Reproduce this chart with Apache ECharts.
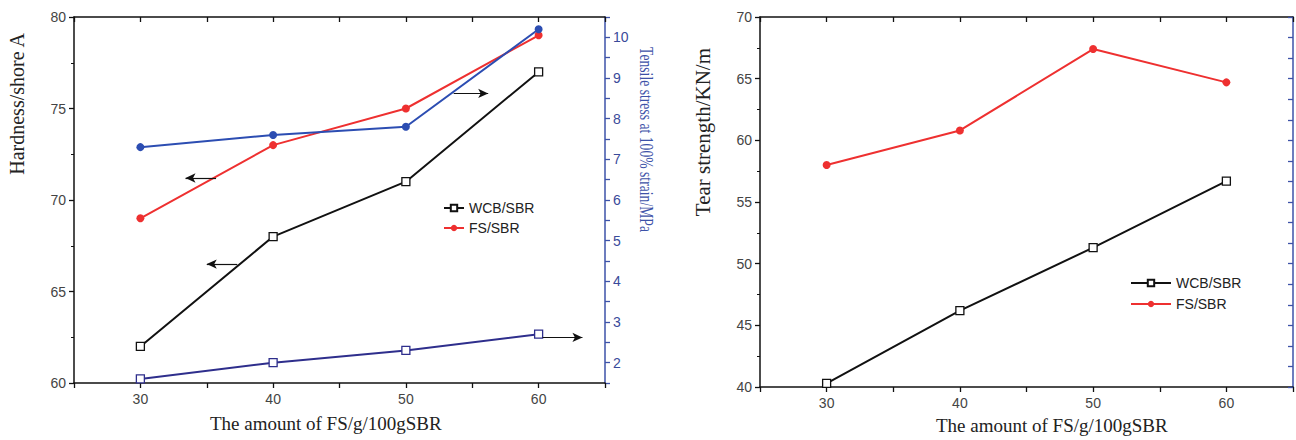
<!DOCTYPE html>
<html>
<head>
<meta charset="utf-8">
<script src="https://cdn.jsdelivr.net/npm/echarts@6/dist/echarts.min.js"></script>
<style>
  html, body { margin: 0; padding: 0; background: #fff; }
  #chart { width: 1296px; height: 440px; }
</style>
</head>
<body>
<div id="chart"></div>
<script>
(function() {
  // --- data ---
  var fsAmount = [30, 40, 50, 60];
  var hardnessWCB = [62, 68, 71, 77];
  var hardnessFS = [69, 73, 75, 79];
  var stressWCB = [1.6, 2.0, 2.3, 2.7];
  var stressFS = [7.3, 7.6, 7.8, 10.2];
  var tearWCB = [40.3, 46.2, 51.3, 56.7];
  var tearFS = [58.0, 60.8, 67.4, 64.7];

  var black = '#111';
  var red = '#ee3030';
  var blue = '#2c4db2';
  var navy = '#2e2e8c';
  var axisBlue = '#3d52a8';
  var serif = '"Liberation Serif", "DejaVu Serif", serif';
  var sans = '"Liberation Sans", Arial, sans-serif';

  function pairs(xs, ys) {
    return xs.map(function(x, i) { return [x, ys[i]]; });
  }

  // little annotation arrows pointing at the axis a curve belongs to
  function arrow(from, to) {
    return {
      silent: true,
      symbol: ['none', 'arrow'],
      symbolSize: [7, 10],
      label: { show: false },
      lineStyle: { color: black, width: 1.2, type: 'solid' },
      data: [[{ coord: from }, { coord: to }]]
    };
  }

  function xBottom(grid) {
    return {
      type: 'value', gridIndex: grid, position: 'bottom',
      min: 25, max: 65, interval: 5,
      axisLine: { show: true, lineStyle: { color: black, width: 1.5 } },
      axisTick: { show: true, inside: false, length: 5, lineStyle: { color: black, width: 1.3 } },
      axisLabel: {
        color: '#444', fontFamily: sans, fontSize: 14, margin: 9,
        formatter: function(v) { return v % 10 === 0 && v > 25 && v < 65 ? v : ''; }
      },
      splitLine: { show: false }
    };
  }
  function xTop(grid) {
    return {
      type: 'value', gridIndex: grid, position: 'top',
      min: 25, max: 65, interval: 5,
      axisLine: { show: true, lineStyle: { color: black, width: 1.5 } },
      axisTick: { show: true, inside: true, length: 5, lineStyle: { color: black, width: 1.3 } },
      axisLabel: { show: false },
      splitLine: { show: false }
    };
  }

  var chart = echarts.init(document.getElementById('chart'), null, { renderer: 'svg' });
  chart.setOption({
    animation: false,
    backgroundColor: '#fff',
    grid: [
      { left: 74, top: 17, width: 531, height: 366 },
      { left: 760, top: 17, width: 535, height: 370 }
    ],
    xAxis: [xBottom(0), xTop(0), xBottom(1), xTop(1)],
    yAxis: [
      {
        type: 'value', gridIndex: 0, position: 'left',
        min: 60, max: 80, interval: 5,
        axisLine: { show: true, lineStyle: { color: black, width: 1.5 } },
        axisTick: { show: true, inside: false, length: 5, lineStyle: { color: black, width: 1.3 } },
        minorTick: { show: true, splitNumber: 2, length: 3, lineStyle: { color: black } },
        axisLabel: { color: '#444', fontFamily: sans, fontSize: 14, margin: 8 },
        splitLine: { show: false }
      },
      {
        type: 'value', gridIndex: 0, position: 'right',
        min: 1.5, max: 10.5, interval: 0.5,
        axisLine: { show: true, lineStyle: { color: axisBlue, width: 1.5 } },
        axisTick: { show: true, inside: false, length: 5, lineStyle: { color: axisBlue, width: 1.3 } },
        axisLabel: {
          color: '#3a4a9a', fontFamily: sans, fontSize: 14, margin: 8,
          formatter: function(v) { return Math.abs(v - Math.round(v)) < 1e-6 ? v : ''; }
        },
        splitLine: { show: false }
      },
      {
        type: 'value', gridIndex: 1, position: 'left',
        min: 40, max: 70, interval: 5,
        axisLine: { show: true, lineStyle: { color: black, width: 1.5 } },
        axisTick: { show: true, inside: false, length: 5, lineStyle: { color: black, width: 1.3 } },
        minorTick: { show: true, splitNumber: 2, length: 3, lineStyle: { color: black } },
        axisLabel: { color: '#444', fontFamily: sans, fontSize: 14, margin: 8 },
        splitLine: { show: false }
      },
      {
        type: 'value', gridIndex: 1, position: 'right',
        min: 0, max: 18, interval: 1,
        axisLine: { show: true, lineStyle: { color: axisBlue, width: 1.5 } },
        axisTick: { show: true, inside: true, length: 5, lineStyle: { color: axisBlue, width: 1.3 } },
        axisLabel: { show: false },
        splitLine: { show: false }
      }
    ],
    legend: [
      {
        data: ['WCB/SBR', 'FS/SBR'],
        orient: 'vertical', left: 443, top: 201, padding: 0,
        itemWidth: 20, itemHeight: 8, itemGap: 6,
        textStyle: { color: '#222', fontFamily: sans, fontSize: 14 }
      },
      {
        data: ['WCB/SBR', 'FS/SBR'],
        orient: 'vertical', left: 1130, top: 276, padding: 0,
        itemWidth: 40, itemHeight: 8, itemGap: 7,
        textStyle: { color: '#222', fontFamily: sans, fontSize: 14 }
      }
    ],
    graphic: [
      {
        type: 'text', left: 7, top: 32, rotation: Math.PI / 2,
        style: { text: 'Hardness/shore A', fill: '#222', font: '20px ' + serif }
      },
      {
        type: 'text', left: 637, top: 47, rotation: -Math.PI / 2, scaleX: 0.76,
        style: { text: 'Tensile stress at 100% strain/MPa', fill: axisBlue, font: '18px ' + serif }
      },
      {
        type: 'text', left: 210, top: 414,
        style: { text: 'The amount of FS/g/100gSBR', fill: '#222', font: '19px ' + serif }
      },
      {
        type: 'text', left: 692, top: 48, rotation: Math.PI / 2,
        style: { text: 'Tear strength/KN/m', fill: '#222', font: '21px ' + serif }
      },
      {
        type: 'text', left: 936, top: 416,
        style: { text: 'The amount of FS/g/100gSBR', fill: '#222', font: '19px ' + serif }
      }
    ],
    series: [
      {
        name: 'WCB/SBR', type: 'line', xAxisIndex: 0, yAxisIndex: 0,
        data: pairs(fsAmount, hardnessWCB),
        symbol: 'rect', symbolSize: 8,
        itemStyle: { color: '#fff', borderColor: black, borderWidth: 1.3 },
        lineStyle: { color: black, width: 2 },
        markLine: arrow([37.3, 66.5], [35.0, 66.5])
      },
      {
        name: 'FS/SBR', type: 'line', xAxisIndex: 0, yAxisIndex: 0,
        data: pairs(fsAmount, hardnessFS),
        symbol: 'circle', symbolSize: 8,
        itemStyle: { color: red },
        lineStyle: { color: red, width: 2 },
        markLine: arrow([35.7, 71.2], [33.4, 71.2])
      },
      {
        name: 'WCB/SBR stress', type: 'line', xAxisIndex: 0, yAxisIndex: 1,
        data: pairs(fsAmount, stressWCB),
        symbol: 'rect', symbolSize: 8,
        itemStyle: { color: '#fff', borderColor: navy, borderWidth: 1.3 },
        lineStyle: { color: navy, width: 2 },
        markLine: arrow([60.3, 2.62], [63.3, 2.62])
      },
      {
        name: 'FS/SBR stress', type: 'line', xAxisIndex: 0, yAxisIndex: 1,
        data: pairs(fsAmount, stressFS),
        symbol: 'circle', symbolSize: 8,
        itemStyle: { color: blue },
        lineStyle: { color: blue, width: 2 },
        markLine: arrow([53.6, 8.62], [56.2, 8.62])
      },
      {
        name: 'WCB/SBR', type: 'line', xAxisIndex: 2, yAxisIndex: 2,
        data: pairs(fsAmount, tearWCB),
        symbol: 'rect', symbolSize: 8,
        itemStyle: { color: '#fff', borderColor: black, borderWidth: 1.3 },
        lineStyle: { color: black, width: 2 }
      },
      {
        name: 'FS/SBR', type: 'line', xAxisIndex: 2, yAxisIndex: 2,
        data: pairs(fsAmount, tearFS),
        symbol: 'circle', symbolSize: 8,
        itemStyle: { color: red },
        lineStyle: { color: red, width: 2 }
      }
    ]
  });
})();
</script>
</body>
</html>
